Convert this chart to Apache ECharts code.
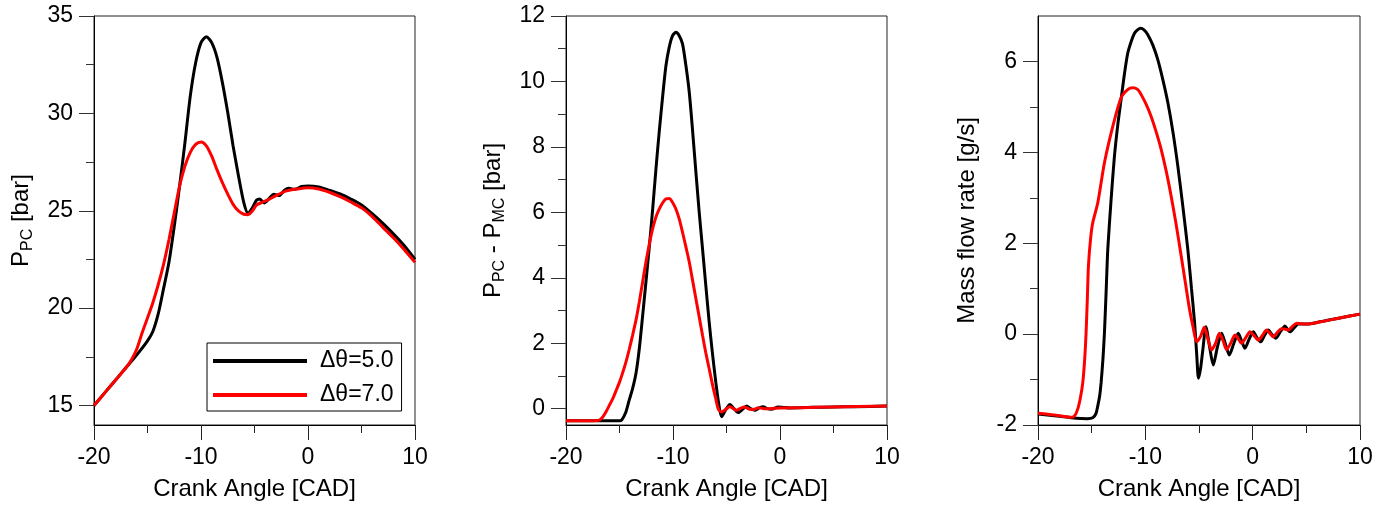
<!DOCTYPE html>
<html>
<head>
<meta charset="utf-8">
<script src="https://cdn.jsdelivr.net/npm/echarts@6/dist/echarts.min.js"></script>
<style>html,body{margin:0;padding:0;background:#fff;}#c{width:1386px;height:506px;}</style>
</head>
<body>
<div id="c"></div>
<script>
// ---------- DATA ----------
const seriesNames = ['Δθ=5.0', 'Δθ=7.0'];
const xTicks = [-20, -10, 0, 10];

// Panel 1: P_PC [bar]
const p1X_b = [-20,-19,-18,-17,-16,-15,-14.5,-14,-13.5,-13,-12.5,-12,-11.5,-11,-10.5,-10,-9.5,-9,-8.5,-8,-7.5,-7,-6.5,-6,-5.6,-5.2,-4.8,-4.5,-4.1,-3.6,-3.2,-2.7,-2.2,-1.8,-1.2,-0.6,0,1,2,3,4,5,6,7,8,9,10];
const p1Y_b = [15.0,15.65,16.3,16.95,17.6,18.32,18.8,19.7,21.0,22.34,24.2,26.27,28.5,30.9,32.6,33.63,33.94,33.63,32.86,31.58,30.04,28.33,26.8,25.42,24.87,25.15,25.55,25.6,25.4,25.65,25.85,25.78,26.05,26.15,26.1,26.25,26.27,26.22,26.05,25.86,25.6,25.3,24.85,24.35,23.8,23.2,22.5];
const p1X_r = [-20,-19,-18,-17,-16.5,-16,-15.5,-15,-14.5,-14,-13.5,-13,-12.5,-12,-11.5,-11,-10.5,-10,-9.5,-9,-8.5,-8,-7.5,-7,-6.5,-6,-5.6,-5.2,-4.8,-4.2,-3.6,-3,-2,-1,0,1,2,3,4,5,6,7,8,9,10];
const p1Y_r = [15.0,15.65,16.3,16.95,17.35,17.9,18.74,19.5,20.28,21.2,22.25,23.5,24.9,26.27,27.3,28.0,28.41,28.53,28.33,27.8,27.1,26.44,25.85,25.33,24.99,24.82,24.8,24.99,25.3,25.45,25.6,25.78,26.02,26.12,26.18,26.12,25.95,25.72,25.45,25.15,24.7,24.15,23.6,23.0,22.35];
const p1Major = [15, 20, 25, 30, 35];
const p1Minor = [17.5, 22.5, 27.5, 32.5];

// Panel 2: P_PC - P_MC [bar]
const p2X_b = [-20,-17,-15,-14.8,-14.4,-14.1,-13.78,-13.45,-13.15,-12.85,-12.53,-12.2,-11.9,-11.6,-11.29,-10.95,-10.66,-10.35,-10.04,-9.73,-9.42,-9.11,-8.8,-8.48,-8.17,-7.86,-7.55,-7.24,-6.93,-6.62,-6.3,-6.0,-5.75,-5.46,-5.1,-4.69,-4.3,-3.91,-3.5,-3.13,-2.75,-2.35,-1.95,-1.57,-1.2,-0.8,-0.17,1,3,5,7,10];
const p2Y_b = [-0.37,-0.37,-0.37,-0.35,-0.1,0.25,0.61,1.1,1.83,2.8,3.87,5.0,6.1,7.3,8.45,9.6,10.48,11.05,11.4,11.5,11.4,11.15,10.5,9.67,8.5,7.23,6.0,4.88,3.75,2.65,1.65,0.81,0.2,-0.25,-0.05,0.13,0.0,-0.12,-0.02,0.08,0.0,-0.05,0.02,0.06,0.0,-0.02,0.05,0.02,0.04,0.05,0.06,0.08];
const p2X_r = [-20,-17.5,-16.9,-16.6,-16.27,-15.95,-15.64,-15.32,-15.0,-14.7,-14.4,-14.1,-13.78,-13.45,-13.15,-12.85,-12.53,-12.2,-11.9,-11.6,-11.29,-10.95,-10.66,-10.35,-10.04,-9.73,-9.42,-9.11,-8.8,-8.48,-8.17,-7.86,-7.55,-7.24,-6.93,-6.62,-6.3,-6.0,-5.78,-5.5,-5.1,-4.69,-4.35,-4.06,-3.7,-3.3,-2.9,-2.5,-2.0,-1.5,-1,0,2,5,10];
const p2Y_r = [-0.37,-0.37,-0.35,-0.27,-0.1,0.1,0.3,0.55,0.81,1.1,1.42,1.8,2.24,2.72,3.26,3.85,4.48,5.05,5.5,5.85,6.1,6.3,6.41,6.42,6.3,6.1,5.8,5.39,4.95,4.48,3.92,3.36,2.8,2.24,1.7,1.22,0.72,0.3,0.0,-0.1,-0.03,0.06,0.0,-0.05,0.01,0.05,-0.01,-0.03,0.03,0.0,0.0,0.02,0.03,0.05,0.08];
const p2Major = [0, 2, 4, 6, 8, 10, 12];
const p2Minor = [1, 3, 5, 7, 9, 11];

// Panel 3: Mass flow rate [g/s]
const p3X_b = [-20,-18,-16.9,-15.4,-14.9,-14.6,-14.43,-14.25,-14.12,-13.95,-13.81,-13.65,-13.5,-13.19,-12.88,-12.57,-12.26,-11.95,-11.64,-11.3,-11.01,-10.7,-10.45,-10.1,-9.77,-9.3,-8.84,-8.37,-7.9,-7.43,-6.97,-6.5,-6.04,-5.7,-5.41,-5.2,-5.05,-4.85,-4.64,-4.36,-4.0,-3.67,-3.3,-2.89,-2.5,-2.18,-1.75,-1.34,-1.0,-0.72,-0.35,0.06,0.4,0.75,1.1,1.46,1.8,2.17,2.6,3.01,3.25,3.48,3.9,4.25,5,6.28,8,10];
const p3Y_b = [-1.76,-1.81,-1.84,-1.86,-1.84,-1.75,-1.58,-1.35,-1.07,-0.55,0.03,0.95,1.86,2.96,3.91,4.6,5.16,5.72,6.18,6.45,6.62,6.7,6.73,6.69,6.59,6.36,6.04,5.6,5.09,4.45,3.69,2.8,1.86,1.0,0.25,-0.5,-0.97,-0.75,-0.34,0.16,-0.3,-0.68,-0.3,0.02,-0.25,-0.46,-0.2,0.02,-0.17,-0.31,-0.12,0.05,-0.08,-0.17,-0.03,0.09,-0.01,-0.09,0.06,0.18,0.1,0.05,0.15,0.22,0.22,0.27,0.35,0.44];
const p3X_r = [-20,-18.5,-17,-16.6,-16.3,-16.05,-15.83,-15.65,-15.52,-15.4,-15.3,-15.1,-14.9,-14.43,-13.81,-13.03,-12.26,-11.64,-11.17,-10.7,-10.39,-9.93,-9.46,-8.99,-8.52,-8.05,-7.59,-7.12,-6.66,-6.25,-5.88,-5.55,-5.22,-4.85,-4.51,-4.15,-3.83,-3.45,-3.11,-2.75,-2.43,-2.05,-1.65,-1.35,-1.03,-0.65,-0.25,0.15,0.52,0.9,1.3,1.6,1.92,2.3,2.7,3.0,3.32,3.7,4.1,5,6.3,8,10];
const p3Y_r = [-1.74,-1.78,-1.83,-1.8,-1.65,-1.4,-1.07,-0.55,0.03,0.8,1.5,2.1,2.45,2.89,3.77,4.57,5.2,5.38,5.42,5.38,5.27,5.06,4.79,4.45,4.06,3.58,3.03,2.4,1.72,1.1,0.54,0.15,-0.17,-0.05,0.15,-0.12,-0.35,-0.2,0.02,-0.15,-0.34,-0.2,-0.02,-0.1,-0.2,-0.08,0.05,-0.04,-0.13,-0.03,0.09,0.02,-0.06,0.04,0.12,0.11,0.09,0.17,0.24,0.22,0.27,0.35,0.44];
const p3Major = [-2, 0, 2, 4, 6];
const p3Minor = [-1, 1, 3, 5];

// ---------- CHART ----------
const FONT = '"Liberation Sans", Arial, sans-serif';
const zip = (xs, ys) => xs.map((x, i) => [x, ys[i]]);

const grids = [
  {left: 94, top: 16, width: 321, height: 409},
  {left: 566, top: 16, width: 321, height: 409},
  {left: 1038, top: 16, width: 322, height: 409}
].map(g => Object.assign({show: true, borderColor: '#222', borderWidth: 1, backgroundColor: 'transparent'}, g));

const xAxes = [0, 1, 2].map(i => ({
  type: 'value', gridIndex: i, min: -20, max: 10, interval: 10,
  axisLine: {show: true, onZero: false, lineStyle: {color: '#000', width: 1}},
  axisTick: {show: true, inside: false, length: 15, lineStyle: {color: '#222'}},
  minorTick: {show: true, splitNumber: 2, length: 8, lineStyle: {color: '#222'}},
  splitLine: {show: false},
  axisLabel: {fontSize: 23, color: '#000', margin: 21, fontFamily: FONT},
  name: 'Crank Angle [CAD]', nameLocation: 'middle', nameGap: 52,
  nameTextStyle: {fontSize: 24, color: '#000', fontFamily: FONT}
}));

const richStyle = {
  m: {fontSize: 24, lineHeight: 30, color: '#000', fontFamily: FONT},
  s: {fontSize: 16, lineHeight: 14, color: '#000', fontFamily: FONT, verticalAlign: 'bottom'}
};

function yPair(gi, min, max, majors, minors, name, gap) {
  return [
    {
      type: 'value', gridIndex: gi, position: 'left', min: min, max: max,
      axisLine: {show: true, onZero: false, lineStyle: {color: '#000', width: 1}},
      axisTick: {show: true, inside: false, length: 15, customValues: majors, lineStyle: {color: '#333'}},
      axisLabel: {fontSize: 23, color: '#000', margin: 21, fontFamily: FONT, customValues: majors},
      splitLine: {show: false},
      name: name, nameLocation: 'middle', nameGap: gap,
      nameTextStyle: {fontSize: 24, color: '#000', fontFamily: FONT, rich: richStyle}
    },
    {
      type: 'value', gridIndex: gi, position: 'left', offset: 0, min: min, max: max,
      axisLine: {show: false, onZero: false},
      axisTick: {show: true, inside: false, length: 8, customValues: minors, lineStyle: {color: '#333'}},
      axisLabel: {show: false},
      splitLine: {show: false}
    }
  ];
}

const yAxes = [].concat(
  yPair(0, 14, 35, p1Major, p1Minor, '{m|P}{s|PC}{m| [bar]}', 58),
  yPair(1, -0.5, 12, p2Major, p2Minor, '{m|P}{s|PC}{m| - P}{s|MC}{m| [bar]}', 58),
  yPair(2, -2, 7, p3Major, p3Minor, '{m|Mass flow rate [g/s]}', 56)
);

function line(name, gi, data, color) {
  return {
    name: name, type: 'line', xAxisIndex: gi, yAxisIndex: gi * 2,
    data: data, showSymbol: false, symbol: 'none', smooth: 0.25,
    lineStyle: {color: color, width: 3}, itemStyle: {color: color},
    clip: true, z: 3
  };
}

const series = [
  line(seriesNames[0], 0, zip(p1X_b, p1Y_b), '#000000'),
  line(seriesNames[1], 0, zip(p1X_r, p1Y_r), '#ff0000'),
  line(seriesNames[0], 1, zip(p2X_b, p2Y_b), '#000000'),
  line(seriesNames[1], 1, zip(p2X_r, p2Y_r), '#ff0000'),
  line(seriesNames[0], 2, zip(p3X_b, p3Y_b), '#000000'),
  line(seriesNames[1], 2, zip(p3X_r, p3Y_r), '#ff0000')
];

const chart = echarts.init(document.getElementById('c'), null, {renderer: 'canvas'});
chart.setOption({
  animation: false,
  backgroundColor: '#fff',
  grid: grids,
  xAxis: xAxes,
  yAxis: yAxes,
  legend: {
    data: seriesNames.map(n => ({name: n, icon: 'rect'})),
    orient: 'vertical', left: 207, top: 343,
    itemWidth: 94, itemHeight: 4, itemGap: 10,
    padding: [6, 8, 4, 6],
    borderColor: '#000', borderWidth: 1, backgroundColor: '#fff',
    selectedMode: false,
    textStyle: {fontSize: 23, lineHeight: 24, color: '#000', fontFamily: FONT, padding: [0, 0, 0, 8]}
  },
  series: series
});
</script>
</body>
</html>
